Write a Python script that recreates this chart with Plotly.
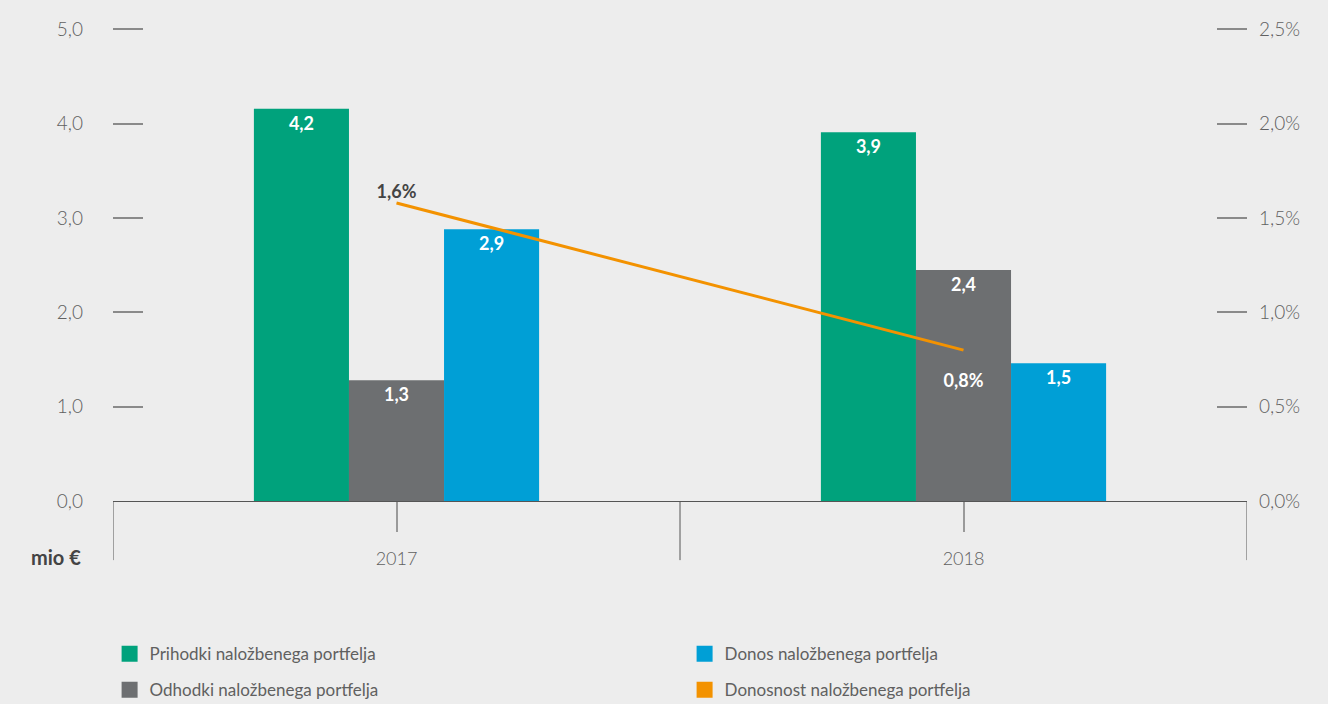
import plotly.graph_objects as go

years = ["2017", "2018"]
prihodki = [4.16, 3.91]
odhodki = [1.28, 2.45]
donos = [2.88, 1.46]
donosnost = [1.58, 0.80]

prihodki_lbl = ["4,2", "3,9"]
odhodki_lbl = ["1,3", "2,4"]
donos_lbl = ["2,9", "1,5"]
donosnost_lbl = ["1,6%", "0,8%"]

names = ["Prihodki naložbenega portfelja", "Odhodki naložbenega portfelja",
         "Donos naložbenega portfelja", "Donosnost naložbenega portfelja"]
colors = ["#00a27c", "#6d6f71", "#009fd6", "#f39200"]

FONT = "Lato, 'Open Sans', sans-serif"
TXT = "#606060"

fig = go.Figure()
for vals, lbl, name, col in [(prihodki, prihodki_lbl, names[0], colors[0]),
                             (odhodki, odhodki_lbl, names[1], colors[1]),
                             (donos, donos_lbl, names[2], colors[2])]:
    fig.add_trace(go.Bar(
        x=years, y=vals, text=lbl, name=name, marker=dict(color=col, line=dict(width=0)),
        textposition="inside", insidetextanchor="end", textangle=0,
        textfont=dict(family=FONT, size=18, color="white", weight="bold"),
        showlegend=False, hoverinfo="skip"))

fig.add_trace(go.Scatter(
    x=years, y=donosnost, yaxis="y2", mode="lines+text", text=donosnost_lbl,
    texttemplate=["%{text}", "<br>%{text}"],
    textposition=["top center", "bottom center"],
    textfont=dict(family=FONT, size=18, color=["#444444", "white"], weight="bold"),
    line=dict(color=colors[3], width=3), showlegend=False, hoverinfo="skip", cliponaxis=False))

# legend-only entries
order = [0, 2, 1, 3]
for k, idx in enumerate(order):
    fig.add_trace(go.Scatter(
        x=[None], y=[None], mode="markers", name=names[idx],
        marker=dict(symbol="square", size=24, color=colors[idx]),
        legend="legend" if k < 2 else "legend2", showlegend=True))

# category boundary lines
shapes = []
for i in range(len(years) + 1):
    shapes.append(dict(type="line", xref="x", yref="paper", x0=i - 0.5, x1=i - 0.5,
                       y0=0, y1=-0.125, line=dict(color="#555555", width=1)))

fig.update_layout(
    width=1328, height=704,
    paper_bgcolor="#ededed", plot_bgcolor="#ededed",
    margin=dict(l=113, r=81, t=28, b=203, autoexpand=False),
    separators=", ",
    bargap=0.497, bargroupgap=0,
    font=dict(family=FONT, color=TXT),
    shapes=shapes,
    xaxis=dict(type="category", range=[-0.5, 1.5], showgrid=False, zeroline=False,
               showline=True, linecolor="#555555", linewidth=1,
               ticks="outside", ticklen=30, tickcolor="#9a9a9a", tickwidth=1.5,
               tickfont=dict(size=18, color=TXT, weight=300), ticklabelstandoff=11),
    yaxis=dict(range=[0, 5.015], tickmode="linear", tick0=0, dtick=1, tickformat=".1f",
               showgrid=False, zeroline=False,
               ticks="inside", ticklen=30, tickcolor="#8a8a8a", tickwidth=1.5,
               tickfont=dict(size=19, color=TXT, weight=300), ticklabelstandoff=29),
    yaxis2=dict(range=[0, 2.5075], tickmode="linear", tick0=0, dtick=0.5, tickformat=".1f",
                ticksuffix="%", overlaying="y",
                side="right", showgrid=False, zeroline=False,
                ticks="inside", ticklen=30, tickcolor="#8a8a8a", tickwidth=1.5,
                tickfont=dict(size=19, color=TXT, weight=300), ticklabelstandoff=11),
    legend=dict(orientation="h", x=-0.003, y=-0.324, xanchor="left", yanchor="middle",
                entrywidth=530, entrywidthmode="pixels", bgcolor="rgba(0,0,0,0)",
                font=dict(size=17, color=TXT)),
    legend2=dict(orientation="h", x=-0.003, y=-0.400, xanchor="left", yanchor="middle",
                 entrywidth=530, entrywidthmode="pixels", bgcolor="rgba(0,0,0,0)",
                 font=dict(size=17, color=TXT)),
    annotations=[dict(text="<b>mio €</b>", xref="paper", yref="paper", x=0, y=-0.118,
                      xanchor="right", yanchor="middle", xshift=-30, showarrow=False,
                      font=dict(size=20, color="#444444"))],
)

fig.write_html("out.html", config={"displayModeBar": False},
               post_script="document.body.style.margin='0';document.body.style.overflow='hidden';")
